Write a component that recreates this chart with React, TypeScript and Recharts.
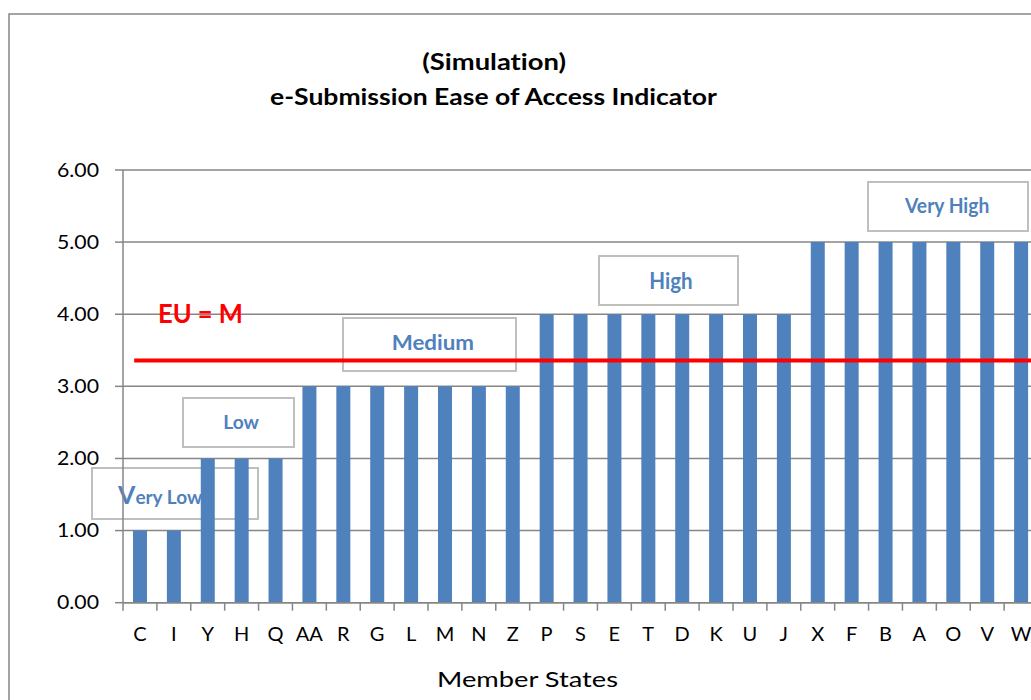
import React from 'react';
import { BarChart, Bar, XAxis, YAxis, CartesianGrid, ReferenceLine } from 'recharts';

// data
const memberStates = ['C', 'I', 'Y', 'H', 'Q', 'AA', 'R', 'G', 'L', 'M', 'N', 'Z', 'P', 'S', 'E', 'T', 'D', 'K', 'U', 'J', 'X', 'F', 'B', 'A', 'O', 'V', 'W'];
const easeScores = [1, 1, 2, 2, 2, 3, 3, 3, 3, 3, 3, 3, 4, 4, 4, 4, 4, 4, 4, 4, 5, 5, 5, 5, 5, 5, 5];
const yTicks = [0, 1, 2, 3, 4, 5, 6];
const euAverage = 3.36;
const euLabel = 'EU = M';
const levelLabels = ['Very Low', 'Low', 'Medium', 'High', 'Very High'];

const data = memberStates.map((name, i) => ({ name, value: easeScores[i] }));

const FONT = 'Lato, "Open Sans", sans-serif';
const GRID = '#868686';
const BLUE = '#4F81BD';
const NO_LIGA: React.CSSProperties = { fontVariantLigatures: 'none' };

const CHART_W = 1045;
const CHART_H = 700;
const Y_AXIS_W = 123;
const MARGIN = { top: 170, right: 7, left: 0, bottom: 47.3 };
const STEP = (CHART_W - MARGIN.left - MARGIN.right - Y_AXIS_W) / memberStates.length;

// Excel-style category ticks: mark on the left edge of each band
const StateTick = (props: any) => {
  const { x, y, payload } = props;
  const edge = x - STEP / 2;
  return (
    <g>
      <line x1={edge} x2={edge} y1={y} y2={y + 8} stroke={GRID} strokeWidth={1.5} />
      <text x={x} y={y + 38} textAnchor="middle" fill="#000" fontSize={20} fontFamily={FONT}>
        {payload.value}
      </text>
    </g>
  );
};

const ValueTick = (props: any) => {
  const { x, y, payload } = props;
  return (
    <text x={x - 42} y={y + 6.5} textLength={42} lengthAdjust="spacingAndGlyphs" fill="#000" fontSize={19} fontFamily={FONT}>
      {Number(payload.value).toFixed(2)}
    </text>
  );
};

// annotation text boxes (behind the bars, as in the original)
const boxes = [
  { label: levelLabels[0], x: 92, y: 468, w: 166, h: 51, tx: 118, ty: 504, fs: 19, len: 0 },
  { label: levelLabels[1], x: 183, y: 398, w: 111, h: 49, tx: 223.3, ty: 429.3, fs: 18.5, len: 35.7 },
  { label: levelLabels[2], x: 343, y: 318, w: 173, h: 53, tx: 391.7, ty: 350, fs: 21, len: 82.3 },
  { label: levelLabels[3], x: 599, y: 256, w: 139, h: 49, tx: 649.3, ty: 289.3, fs: 22, len: 43.4 },
  { label: levelLabels[4], x: 868, y: 182, w: 160, h: 49, tx: 905, ty: 212.7, fs: 20, len: 84.3 },
];

const Backdrop = () => (
  <svg width={1031} height={700} style={{ position: 'absolute', left: 0, top: 0 }}>
    <rect x={9} y={14} width={1200} height={900} fill="#fff" stroke={GRID} strokeWidth={1.5} />
    <text x={422.3} y={69.5} textLength={143.7} lengthAdjust="spacingAndGlyphs" fontSize={23} fontWeight="bold" fontFamily={FONT} fill="#000" style={NO_LIGA}>
      (Simulation)
    </text>
    <text x={270} y={104.5} textLength={447} lengthAdjust="spacingAndGlyphs" fontSize={23} fontWeight="bold" fontFamily={FONT} fill="#000" style={NO_LIGA}>
      e-Submission Ease of Access Indicator
    </text>
    {boxes.map((b, i) => (
      <g key={b.label}>
        <rect x={b.x} y={b.y} width={b.w} height={b.h} fill="#fff" stroke="#BFBFBF" strokeWidth={2} />
        {i === 0 ? (
          <text x={b.tx} y={b.ty} fontWeight="bold" fontFamily={FONT} fill={BLUE}>
            <tspan fontSize={25}>{b.label.charAt(0)}</tspan>
            <tspan fontSize={b.fs}>{b.label.slice(1)}</tspan>
          </text>
        ) : (
          <text x={b.tx} y={b.ty} textLength={b.len} lengthAdjust="spacingAndGlyphs" fontSize={b.fs} fontWeight="bold" fontFamily={FONT} fill={BLUE}>
            {b.label}
          </text>
        )}
      </g>
    ))}
    <text x={437} y={687.3} textLength={181} lengthAdjust="spacingAndGlyphs" fontSize={22} fontFamily={FONT} fill="#000">
      Member States
    </text>
  </svg>
);

// the EU label sits on top of the gridlines
const Overlay = () => (
  <svg width={1031} height={700} style={{ position: 'absolute', left: 0, top: 0, pointerEvents: 'none' }}>
    <text x={158} y={323} textLength={85} lengthAdjust="spacingAndGlyphs" fontSize={26} fontWeight="bold" fontFamily={FONT} fill="#FF0000">
      {euLabel}
    </text>
  </svg>
);

export default function App() {
  return (
    <div style={{ position: 'absolute', left: 0, top: 0, width: 1031, height: 700, overflow: 'hidden', background: '#fff', fontFamily: FONT }}>
      <Backdrop />
      <div style={{ position: 'absolute', left: 0, top: 0 }}>
        <BarChart width={CHART_W} height={CHART_H} data={data} margin={MARGIN} barSize={14}>
          <CartesianGrid vertical={false} stroke={GRID} strokeWidth={1.5} />
          <XAxis
            dataKey="name"
            interval={0}
            height={50}
            tickSize={0}
            tickMargin={0}
            tickLine={false}
            axisLine={{ stroke: GRID, strokeWidth: 1.5 }}
            tick={<StateTick />}
          />
          <YAxis
            width={Y_AXIS_W}
            domain={[0, 6]}
            ticks={yTicks}
            interval={0}
            tickSize={8}
            tickMargin={16}
            axisLine={{ stroke: GRID, strokeWidth: 1.5 }}
            tickLine={{ stroke: GRID, strokeWidth: 1.5 }}
            tick={<ValueTick />}
          />
          <Bar dataKey="value" fill={BLUE} isAnimationActive={false} />
          <ReferenceLine
            y={euAverage}
            stroke="#FF0000"
            strokeWidth={4}
            shape={(p: any) => {
              const left = Math.min(p.x1, p.x2);
              const right = Math.max(p.x1, p.x2);
              return <line x1={left + STEP * 0.33} x2={right} y1={p.y1} y2={p.y2} stroke="#FF0000" strokeWidth={4} />;
            }}
          />
        </BarChart>
      </div>
      <Overlay />
    </div>
  );
}
